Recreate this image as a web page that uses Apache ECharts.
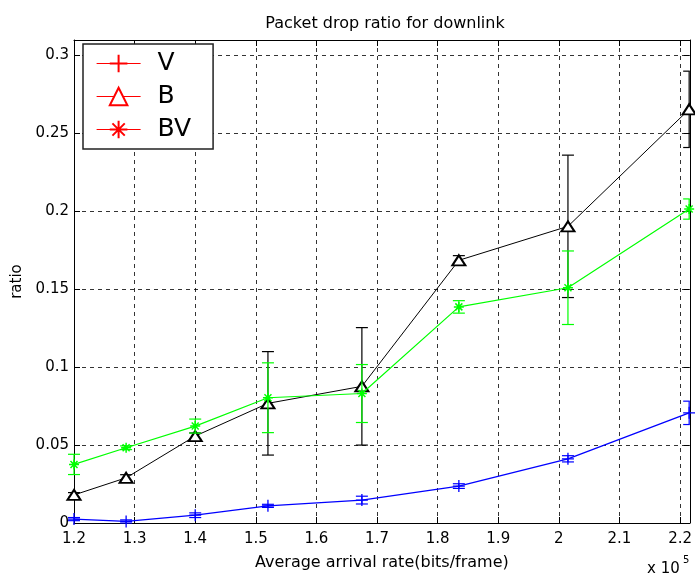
<!DOCTYPE html>
<html>
<head>
<meta charset="utf-8">
<script src="https://cdn.jsdelivr.net/npm/echarts@6/dist/echarts.min.js"></script>
<style>
  html, body { margin: 0; padding: 0; background: #fff; }
  #chart { width: 695px; height: 581px; }
</style>
</head>
<body>
<div id="chart"></div>
<script>
// Average arrival rate, in units of 10^5 bits/frame
const rates = [1.2, 1.286, 1.4, 1.52, 1.675, 1.835, 2.015, 2.215];

// Packet drop ratio (mean) and error half-widths per scheme
const ratioV  = [0.0025, 0.001, 0.005, 0.011, 0.0147, 0.0237, 0.0412, 0.0707];
const errV    = [0.001, 0.001, 0.0015, 0.001, 0.0025, 0.0015, 0.002, 0.0075];

const ratioB  = [0.018, 0.029, 0.0558, 0.0768, 0.0877, 0.1686, 0.1904, 0.2655];
const errB    = [0.0015, 0.002, 0.002, 0.0332, 0.0377, 0.003, 0.0457, 0.0245];

const ratioBV = [0.0376, 0.0483, 0.0622, 0.0804, 0.0831, 0.1387, 0.151, 0.2015];
const errBV   = [0.0065, 0.0012, 0.0045, 0.0224, 0.0186, 0.004, 0.0236, 0.0065];

const legendNames = ['V', 'B', 'BV'];

const FONT = 'DejaVu Sans, Liberation Sans, Arial, sans-serif';

const pairs = (ys) => rates.map((x, i) => [x, ys[i]]);
const triples = (ys, es) => rates.map((x, i) => [x, ys[i], es[i]]);

// vertical bar with short caps; caps are clipped at the plot's right edge
function errRender(params, api) {
  const x = api.value(0), y = api.value(1), e = api.value(2);
  const top = api.coord([x, y + e]);
  const bot = api.coord([x, y - e]);
  const cs = params.coordSys;
  const right = cs.x + cs.width;
  const hw = 6;
  const l = top[0] - hw, r = Math.min(top[0] + hw, right);
  const style = { stroke: api.visual('color'), lineWidth: 1.2 };
  return {
    type: 'group',
    children: [
      { type: 'line', shape: { x1: top[0], y1: top[1], x2: bot[0], y2: bot[1] }, style },
      { type: 'line', shape: { x1: l, y1: top[1], x2: r, y2: top[1] }, style },
      { type: 'line', shape: { x1: l, y1: bot[1], x2: r, y2: bot[1] }, style }
    ]
  };
}

const PLUS = 'path://M6,0L6,12M0,6L12,6';
const STAR = 'path://M6,0L6,12M0,6L12,6M1.8,1.8L10.2,10.2M10.2,1.8L1.8,10.2';

const gridDash = { type: [4, 4], color: '#000', width: 0.8 };

const chart = echarts.init(document.getElementById('chart'));
chart.setOption({
  animation: false,
  backgroundColor: '#fff',
  title: {
    text: 'Packet drop ratio for downlink',
    left: 380,
    top: 11,
    textAlign: 'center',
    textStyle: { fontFamily: FONT, fontSize: 16, fontWeight: 'normal', color: '#000' }
  },
  grid: { left: 74, right: 3, top: 40, bottom: 58 },
  legend: {
    orient: 'vertical',
    left: 83,
    top: 44,
    padding: [7, 22, 7, 13],
    itemGap: 8,
    itemWidth: 44,
    itemHeight: 22,
    backgroundColor: '#fff',
    borderColor: '#222',
    borderWidth: 1.5,
    textStyle: { fontFamily: FONT, fontSize: 25, color: '#000', lineHeight: 25, padding: [0, 0, 0, 12] },
    data: legendNames.map(n => ({
      name: n,
      itemStyle: { color: '#f00', borderColor: '#f00' },
      lineStyle: { color: '#f00', width: 1.2 }
    }))
  },
  xAxis: [
    {
      type: 'value', position: 'bottom', min: 1.2, max: 2.216, interval: 0.1,
      name: 'Average arrival rate(bits/frame)', nameLocation: 'middle', nameGap: 32,
      nameTextStyle: { fontFamily: FONT, fontSize: 16, color: '#000' },
      axisLine: { show: true, lineStyle: { color: '#000', width: 1 } },
      axisTick: { show: true, inside: true, length: 6, lineStyle: { color: '#000' } },
      axisLabel: { fontFamily: FONT, fontSize: 15, color: '#000', margin: 9, showMaxLabel: false },
      splitLine: { show: true, lineStyle: gridDash }
    },
    {
      type: 'value', position: 'top', min: 1.2, max: 2.216, interval: 0.1,
      axisLine: { show: true, onZero: false, lineStyle: { color: '#000', width: 1 } },
      axisTick: { show: true, inside: true, length: 6, lineStyle: { color: '#000' } },
      axisLabel: { show: false },
      splitLine: { show: false }
    }
  ],
  yAxis: [
    {
      type: 'value', position: 'left', min: 0, max: 0.31, interval: 0.05,
      name: 'ratio', nameLocation: 'middle', nameGap: 48,
      nameTextStyle: { fontFamily: FONT, fontSize: 15, color: '#000' },
      axisLine: { show: true, lineStyle: { color: '#000', width: 1 } },
      axisTick: { show: true, inside: true, length: 6, lineStyle: { color: '#000' } },
      axisLabel: { fontFamily: FONT, fontSize: 15, color: '#000', margin: 5, showMaxLabel: false },
      splitLine: { show: true, lineStyle: gridDash }
    },
    {
      type: 'value', position: 'right', min: 0, max: 0.31, interval: 0.05,
      axisLine: { show: true, onZero: false, lineStyle: { color: '#000', width: 1 } },
      axisTick: { show: true, inside: true, length: 6, lineStyle: { color: '#000' } },
      axisLabel: { show: false },
      splitLine: { show: false }
    }
  ],
  graphic: [
    { type: 'text', left: 647, top: 562, style: { text: 'x 10', fontFamily: FONT, fontSize: 15, fill: '#000' } },
    { type: 'text', left: 683, top: 555, style: { text: '5', fontFamily: FONT, fontSize: 10, fill: '#000' } }
  ],
  series: [
    {
      name: 'V', type: 'line', data: pairs(ratioV), z: 3,
      symbol: PLUS, symbolSize: 12,
      lineStyle: { color: '#0000ff', width: 1.3 },
      itemStyle: { color: '#0000ff', borderColor: '#0000ff', borderWidth: 1.3 }
    },
    {
      name: 'V err', type: 'custom', data: triples(ratioV, errV), z: 3,
      renderItem: errRender, itemStyle: { color: '#0000ff' }, encode: { x: 0, y: 1 }
    },
    {
      name: 'B', type: 'line', data: pairs(ratioB), z: 4,
      symbol: 'emptyTriangle', symbolSize: [13, 10],
      lineStyle: { color: '#000', width: 1 },
      itemStyle: { color: '#000', borderColor: '#000', borderWidth: 1.2 }
    },
    {
      name: 'B err', type: 'custom', data: triples(ratioB, errB), z: 4,
      renderItem: errRender, itemStyle: { color: '#000' }, encode: { x: 0, y: 1 }
    },
    {
      name: 'BV', type: 'line', data: pairs(ratioBV), z: 5,
      symbol: STAR, symbolSize: 10,
      lineStyle: { color: '#00ff00', width: 1.2 },
      itemStyle: { color: '#00ff00', borderColor: '#00ff00', borderWidth: 1.5 }
    },
    {
      name: 'BV err', type: 'custom', data: triples(ratioBV, errBV), z: 5,
      renderItem: errRender, itemStyle: { color: '#00ff00' }, encode: { x: 0, y: 1 }
    }
  ]
});
</script>
</body>
</html>
